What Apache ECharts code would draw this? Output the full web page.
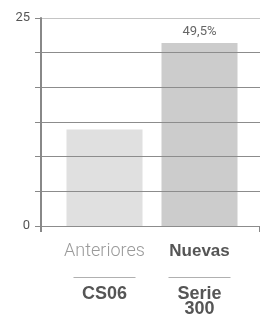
<!DOCTYPE html>
<html>
<head>
<meta charset="utf-8">
<script src="https://cdn.jsdelivr.net/npm/echarts@6/dist/echarts.min.js"></script>
<style>
html,body{margin:0;padding:0;background:#fff;}
#chart{width:260px;height:322px;}
</style>
</head>
<body>
<div id="chart"></div>
<script>
var categories = ['Anteriores', 'Nuevas'];
var subLabels = ['CS06', 'Serie\n300'];
var values = [11.6, 22.0];
var barLabels = ['', '49,5%'];
var barColors = ['#e0e0e0', '#cccccc'];
var yTickLabels = {0: '0', 25: '25'};
var yMin = 0, yMax = 25, ySteps = 6;

var chart = echarts.init(document.getElementById('chart'), null, {renderer: 'canvas'});
var gridTop = 18, gridBottom = 96;
var option = {
  animation: false,
  grid: [
    {left: 41, right: 0, top: gridTop, bottom: gridBottom},
    {left: 57, right: 13, top: gridTop, bottom: gridBottom}
  ],
  xAxis: [
    {gridIndex: 0, type: 'value', min: 0, max: 1, interval: 1, z: 5,
     axisLine: {show: false}, splitLine: {show: false}, axisLabel: {show: false},
     axisTick: {show: true, inside: false, length: 6, lineStyle: {color: '#888', width: 2}}},
    {gridIndex: 1, type: 'category', data: categories,
     axisLine: {show: false}, axisTick: {show: false}, splitLine: {show: false},
     axisLabel: {
       interval: 0, margin: 15, verticalAlign: 'top',
       formatter: function (v, i) {
         var top = i === 0 ? '{a|' + v + '}' : '{n|' + v + '}';
         var sub = subLabels[i].split('\n').map(function (s) { return '{b|' + s + '}'; }).join('\n');
         return top + '\n{sp|}\n{hr|}\n{sp2|}\n' + sub;
       },
       rich: {
         a: {color: '#9a9a9a', fontSize: 18, fontFamily: 'Roboto', fontWeight: 300, lineHeight: 20},
         n: {color: '#555', fontSize: 17, fontFamily: 'Liberation Sans', fontWeight: 'bold', lineHeight: 20},
         sp: {height: 16, lineHeight: 16},
         hr: {width: 62, height: 1, backgroundColor: '#b0b0b0'},
         sp2: {height: 9, lineHeight: 9},
         b: {color: '#555', fontSize: 18, fontFamily: 'Liberation Sans', fontWeight: 'bold', lineHeight: 15}
       }
     }}
  ],
  yAxis: [
    {gridIndex: 0, type: 'value', min: yMin, max: yMax, interval: (yMax - yMin) / ySteps, z: 5,
     axisLine: {show: true, lineStyle: {color: '#888', width: 2}},
     axisTick: {show: true, length: 6, lineStyle: {color: '#888', width: 1}},
     splitLine: {show: true, lineStyle: {color: ['#8c8c8c', '#8c8c8c', '#8c8c8c', '#8c8c8c', '#8c8c8c', '#8c8c8c', '#c4c4c4'], width: 1}},
     axisLabel: {
       margin: 11, color: '#555', fontSize: 13, fontFamily: 'Roboto',
       formatter: function (v) {
         var r = Math.round(v * 1000) / 1000;
         return yTickLabels[r] !== undefined ? yTickLabels[r] : '';
       }
     }},
    {gridIndex: 1, type: 'value', min: yMin, max: yMax, show: false}
  ],
  series: [{
    type: 'bar', xAxisIndex: 1, yAxisIndex: 1, barWidth: '80%', z: 1,
    data: values.map(function (v, i) { return {value: v, itemStyle: {color: barColors[i]}}; }),
    label: {
      show: true, position: 'top', distance: 5, color: '#666', fontSize: 13, fontFamily: 'Roboto',
      formatter: function (p) { return barLabels[p.dataIndex]; }
    }
  }]
};
chart.setOption(option);
</script>
</body>
</html>
